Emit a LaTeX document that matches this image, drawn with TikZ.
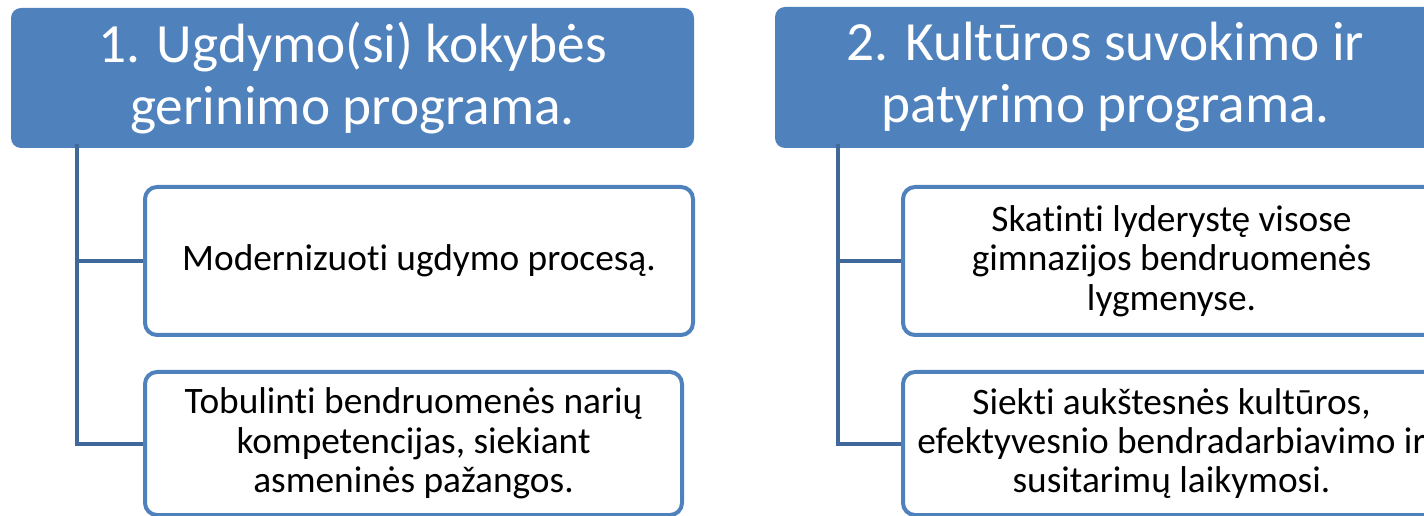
\documentclass[tikz,border=0pt]{standalone}
\usepackage{fontspec}
\setmainfont{Carlito}[Ligatures=NoCommon]
\definecolor{hdrblue}{RGB}{79,129,189}
\definecolor{linkblue}{RGB}{64,104,154}
\tikzset{every picture/.style={line width=0.75pt}}
\tikzset{
  hdrbox/.style={draw=none, fill=hdrblue, rounded corners=7.5pt, text=white, align=center,
    font=\fontsize{41.5}{46.5}\selectfont, inner sep=0pt},
  subbox/.style={draw=hdrblue, line width=3pt, fill=white, rounded corners=9pt, align=center,
    font=\fontsize{28}{29.5}\selectfont, inner sep=0pt},
  link/.style={draw=linkblue, line width=3pt}
}

\begin{document}
\begin{tikzpicture}[x=0.75pt,y=0.75pt,yscale=-1,xscale=1]
\clip (0,0) rectangle (1424,516);

% Text Node
\node [hdrbox, minimum width=512.25pt, minimum height=105pt] (hdrA) at (352.5,78) {1. Ugdymo(si) kokybės\\gerinimo programa.};
% Text Node
\node [hdrbox, minimum width=495.75pt, minimum height=105.75pt] (hdrB) at (1105.5,77.5) {2. Kultūros suvokimo ir\\patyrimo programa.};

% Text Node
\node [subbox, minimum width=411pt, minimum height=111pt] (subA1) at (419,261) {Modernizuoti ugdymo procesą.};
% Text Node
\node [subbox, minimum width=402.75pt, minimum height=107.25pt] (subA2) at (413.5,443.5) {Tobulinti bendruomenės narių\\kompetencijas, siekiant\\asmeninės pažangos.};
% Text Node
\node [subbox, minimum width=402.75pt, minimum height=111pt] (subB1) at (1171.5,261) {Skatinti lyderystę visose\\gimnazijos bendruomenės\\lygmenyse.};
% Text Node
\node [subbox, minimum width=402.75pt, minimum height=107.25pt] (subB2) at (1171.5,443.5) {Siekti aukštesnės kultūros,\\efektyvesnio bendradarbiavimo ir\\susitarimų laikymosi.};

%Straight Lines
\coordinate (trunkA) at ([xshift=49.5pt, yshift=-3pt]hdrA.south west);
\draw [link] (trunkA) |- (subA1.west) ;
\draw [link] (trunkA) |- (subA2.west) ;
%Straight Lines
\coordinate (trunkB) at ([xshift=47.25pt, yshift=-3pt]hdrB.south west);
\draw [link] (trunkB) |- (subB1.west) ;
\draw [link] (trunkB) |- (subB2.west) ;

\end{tikzpicture}
\end{document}
